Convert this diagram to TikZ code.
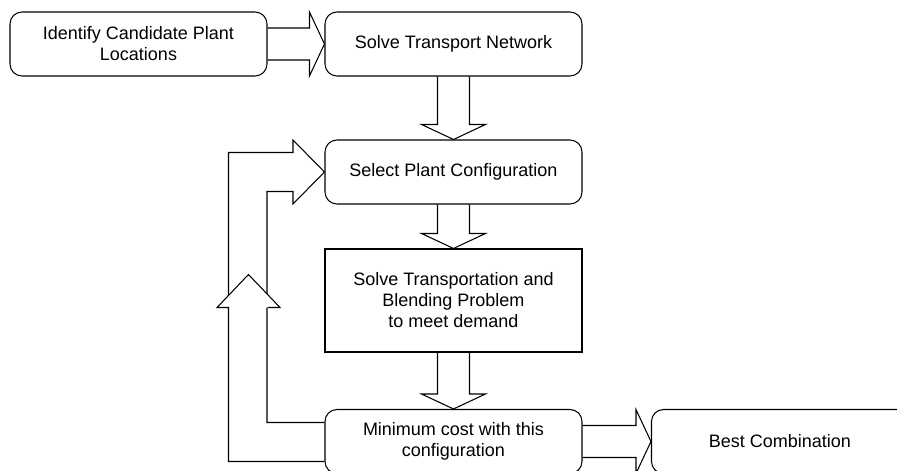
\documentclass[tikz,border=0pt]{standalone}
\usepackage{fontspec}
\setmainfont{Liberation Sans}
\usetikzlibrary{calc}

\begin{document}
\begin{tikzpicture}[
  font=\fontsize{10.24}{11.95}\selectfont,
  stage/.style={draw, rectangle, rounded corners=0.24cm, minimum width=5.14cm, minimum height=1.28cm, align=center, line width=0.6pt},
  task/.style={draw, rectangle, minimum width=5.14cm, minimum height=2.06cm, align=center, line width=0.6pt},
  flow/.style={line width=0.6pt, to path={
    ($(\tikztostart)!0.32cm!-90:(\tikztotarget)$)
    -- ($(\tikztotarget)!0.3cm!(\tikztostart)!0.32cm!90:(\tikztostart)$)
    -- ($(\tikztotarget)!0.3cm!(\tikztostart)!0.64cm!90:(\tikztostart)$)
    -- (\tikztotarget)
    -- ($(\tikztotarget)!0.3cm!(\tikztostart)!0.64cm!-90:(\tikztostart)$)
    -- ($(\tikztotarget)!0.3cm!(\tikztostart)!0.32cm!-90:(\tikztostart)$)
    -- ($(\tikztostart)!0.32cm!90:(\tikztotarget)$)}},
  loopline/.style={line width=0.6pt}
]
\useasboundingbox (0,0) rectangle (17.94,-9.4);
\clip (0,0) rectangle (17.94,-9.4);

\node[stage] (locs) at (2.77,-0.88) {Identify Candidate Plant\\Locations};
\node[stage] (network) at (9.07,-0.88) {Solve Transport Network};
\node[stage] (config) at (9.07,-3.44) {Select Plant Configuration};
\node[task] (blend) at (9.07,-6.01) {Solve Transportation and\\Blending Problem\\to meet demand};
\node[stage] (mincost) at (9.07,-8.83) {Minimum cost with this\\configuration};
\node[stage] (best) at (15.6,-8.83) {Best Combination};

\draw[flow] (locs.east) to (network.west);
\draw[flow] (network.south) to (config.north);
\draw[flow] (config.south) to (blend.north);
\draw[flow] (blend.south) to (mincost.north);
\draw[flow] (mincost.east) to (best.west);

% loop back to the configuration
\draw[loopline] ($(mincost.west)+(0,-0.4)$) -| ($(config.west)+(-1.92,0.39)$)
  -- ($(config.west)+(-0.63,0.39)$) -- ($(config.west)+(-0.63,0.64)$) -- (config.west)
  -- ($(config.west)+(-0.63,-0.64)$) -- ($(config.west)+(-0.63,-0.39)$)
  -| ($(mincost.west)+(-1.15,0.38)$) -- ($(mincost.west)+(0,0.38)$);

\coordinate (uptip) at (4.97,-5.49);
\fill[white] ($(uptip)+(-0.63,-0.66)$) -- (uptip) -- ($(uptip)+(0.63,-0.66)$) -- cycle;
\draw[loopline] ($(uptip)+(-0.39,-0.66)$) -- ($(uptip)+(-0.63,-0.66)$) -- (uptip)
  -- ($(uptip)+(0.63,-0.66)$) -- ($(uptip)+(0.38,-0.66)$);
\end{tikzpicture}
\end{document}
